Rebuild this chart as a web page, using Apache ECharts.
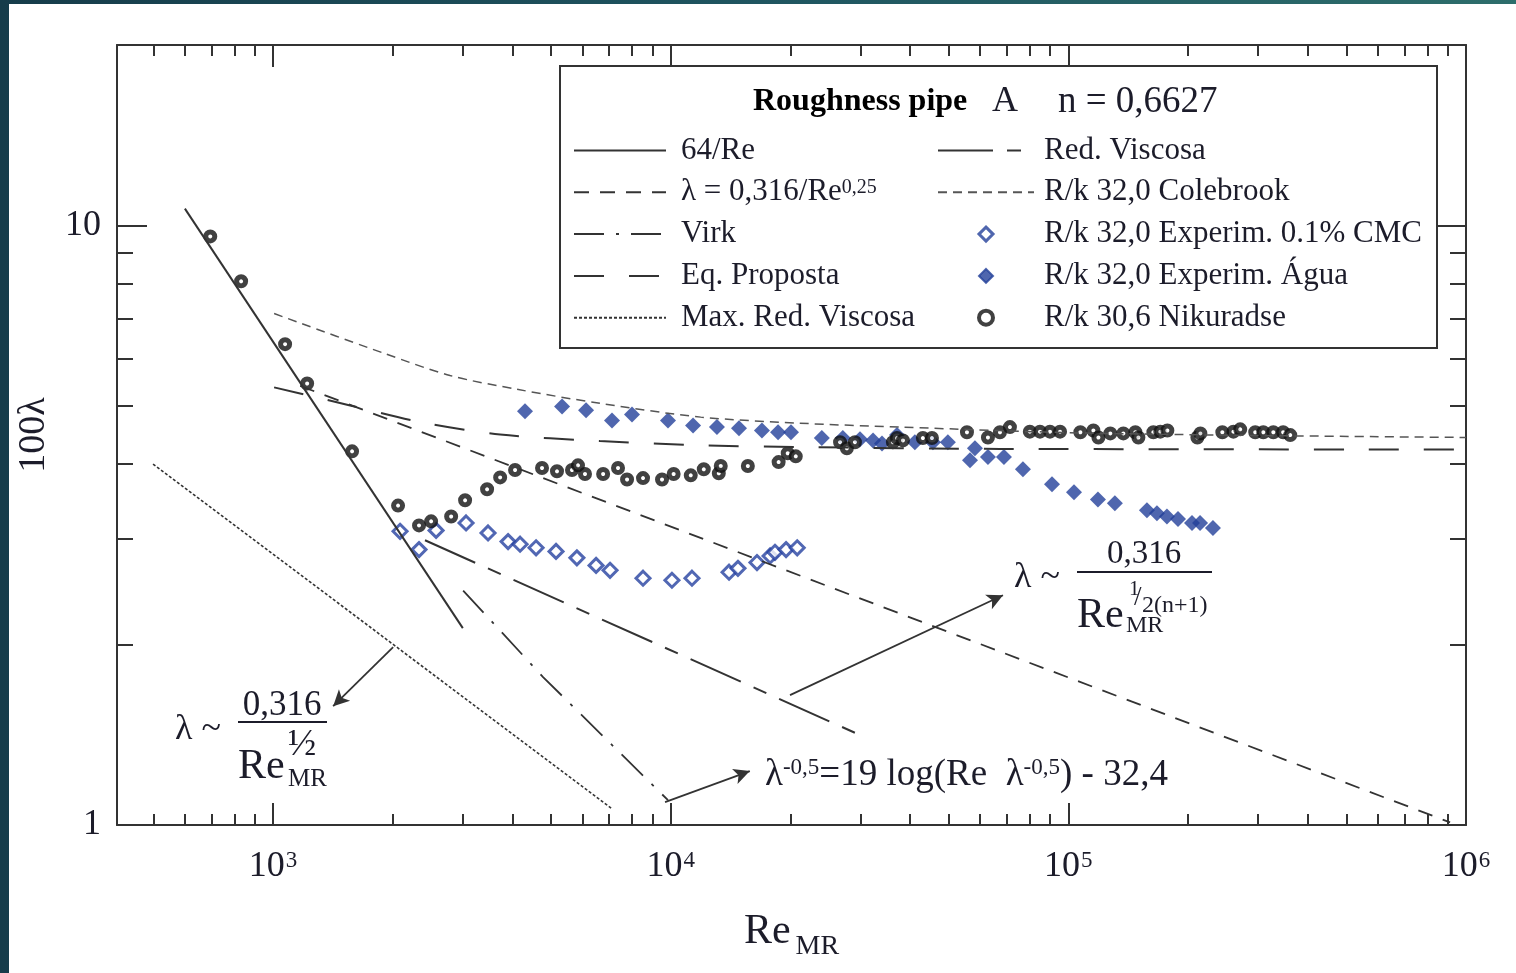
<!DOCTYPE html>
<html>
<head>
<meta charset="utf-8">
<title>Roughness pipe A</title>
<script src="https://cdn.jsdelivr.net/npm/echarts@6/dist/echarts.min.js"></script>
<style>
  html, body { margin: 0; padding: 0; }
  body { width: 1516px; height: 973px; position: relative; overflow: hidden;
         background: linear-gradient(90deg, #163c4a 0%, #1f5560 50%, #2d6d6b 100%); }
  #paper { position: absolute; left: 9px; top: 4px; width: 1507px; height: 969px; background: #fff; }
  #chart { position: absolute; left: 0; top: 0; width: 1516px; height: 973px; }
</style>
</head>
<body>
<div id="paper"></div>
<div id="chart"></div>
<script>
// eixos (Re_MR e 100*lambda)
const xMin = 405, xMax = 1000000;
const yMin = 1, yMax = 20;
const xMajor = [1000, 10000, 100000, 1000000];
const xMinor = [500, 600, 700, 800, 900,
  2000, 3000, 4000, 5000, 6000, 7000, 8000, 9000,
  20000, 30000, 40000, 50000, 60000, 70000, 80000, 90000,
  200000, 300000, 400000, 500000, 600000, 700000, 800000, 900000];
const yMajor = [1, 10];
const yMinor = [2, 3, 4, 5, 6, 7, 8, 9];

// curvas teoricas  [Re, 100λ]
const line64 = [[600, 10.67], [3000, 2.13]];
const blasius = [[1170, 5.40], [912000, 1.01]];
const virk = [[3006, 2.46], [4775, 1.765], [9843, 1.10]];
const eqProposta = [[1006, 5.37], [1562, 5.01], [2343, 4.70], [3724, 4.48], [6637, 4.37],
  [11850, 4.30], [21130, 4.27], [67300, 4.24], [1000000, 4.23]];
const maxRedViscosa = [[499, 4.0], [7080, 1.067]];
const redViscosa = [[2410, 2.985], [29900, 1.413]];
const colebrook = [[1006, 7.13], [1901, 6.12], [2786, 5.62], [4108, 5.33], [6640, 5.05],
  [11900, 4.79], [21100, 4.68], [37700, 4.61], [120000, 4.50], [1000000, 4.43]];

// pontos experimentais [Re, 100λ]
const cmc = [[2086, 3.09], [2328, 2.88], [2570, 3.10], [3057, 3.19], [3472, 3.07], [3899, 2.97],
  [4180, 2.94], [4585, 2.90], [5147, 2.86], [5808, 2.79], [6490, 2.71], [7037, 2.66],
  [8518, 2.58], [10070, 2.56], [11310, 2.58], [14020, 2.64], [14760, 2.68], [16480, 2.74],
  [17780, 2.81], [18290, 2.85], [19500, 2.88], [20800, 2.90]];
const agua = [[4301, 4.90], [5330, 4.99], [6124, 4.92], [7116, 4.73], [7991, 4.84], [9843, 4.73],
  [11380, 4.64], [13070, 4.61], [14850, 4.59], [16960, 4.55], [18620, 4.52], [20070, 4.52],
  [23990, 4.42], [27090, 4.42], [29920, 4.40], [32270, 4.38], [33990, 4.33], [37070, 4.47],
  [41120, 4.35], [45650, 4.35], [49780, 4.35], [56570, 4.06], [58220, 4.25], [62770, 4.11],
  [68870, 4.11], [76880, 3.92], [90970, 3.70], [103300, 3.59], [118700, 3.49], [130900, 3.44],
  [157600, 3.35], [167000, 3.31], [177000, 3.27], [188700, 3.24], [204600, 3.19], [214400, 3.19],
  [231000, 3.13]];
const nikuradse = [[695, 9.59], [831, 8.07], [1072, 6.34], [1218, 5.45], [1580, 4.20], [2062, 3.41],
  [2328, 3.16], [2497, 3.21], [2804, 3.27], [3040, 3.48], [3453, 3.63], [3724, 3.80], [4060, 3.91],
  [4746, 3.94], [5176, 3.89], [5646, 3.91], [5846, 3.98], [6087, 3.85], [6761, 3.85], [7370, 3.94],
  [7766, 3.77], [8518, 3.79], [9508, 3.77], [10170, 3.85], [11230, 3.83], [12110, 3.92],
  [13210, 3.86], [13360, 3.97], [15630, 3.97], [18680, 4.03], [19690, 4.17], [20630, 4.12],
  [26660, 4.35], [27730, 4.25], [29060, 4.35], [36200, 4.35], [37070, 4.42], [38370, 4.38],
  [43060, 4.42], [45390, 4.42], [55590, 4.52], [62770, 4.43], [67300, 4.52], [71290, 4.61],
  [80000, 4.53], [84850, 4.53], [89900, 4.53], [95300, 4.53], [107200, 4.52], [115600, 4.55],
  [119000, 4.43], [127500, 4.50], [137500, 4.50], [147400, 4.52], [150000, 4.43], [163600, 4.52],
  [170300, 4.53], [177400, 4.55], [211100, 4.43], [214800, 4.50], [243900, 4.52], [260100, 4.53],
  [270500, 4.57], [295100, 4.52], [309200, 4.52], [327700, 4.52], [346900, 4.52], [361400, 4.47]];

// setas das anotacoes [origem, ponta]
const setas = [
  [[2004, 1.98], [1416, 1.578]],
  [[19950, 1.647], [68480, 2.417]],
  [[9676, 1.092], [15810, 1.23]]
];

const FONT = '"Liberation Serif", "Times New Roman", serif';
const INK = '#1c1c2a';
const LINHA = '#333';
const AZUL = '#23409a';
const DIAMANTE = 'path://M10,0L20,10L10,20L0,10Z';

const N_BLASIUS = 'λ = 0,316/Re0,25';
const N_CMC = 'R/k 32,0 Experim. 0.1% CMC';
const N_AGUA = 'R/k 32,0 Experim. Água';
const N_NIK = 'R/k 30,6 Nikuradse';
const N_COLE = 'R/k 32,0 Colebrook';

const chart = echarts.init(document.getElementById('chart'));

function eixoX(pos, major) {
  return {
    type: 'log', min: xMin, max: xMax, position: pos,
    axisLine: { show: major, lineStyle: { color: LINHA, width: 2 } },
    axisTick: { show: true, inside: true, length: major ? 22 : 11,
      customValues: major ? xMajor : xMinor, lineStyle: { color: LINHA, width: 2 } },
    minorTick: { show: false },
    splitLine: { show: false },
    axisLabel: { show: false }
  };
}
function eixoY(pos, major) {
  return {
    type: 'log', min: yMin, max: yMax, position: pos,
    axisLine: { show: major, lineStyle: { color: LINHA, width: 2 } },
    axisTick: { show: true, inside: true, length: major ? 30 : 16,
      customValues: major ? yMajor : yMinor, lineStyle: { color: LINHA, width: 2 } },
    minorTick: { show: false },
    splitLine: { show: false },
    axisLabel: { show: false }
  };
}

const xAxes = [eixoX('bottom', true), eixoX('bottom', false), eixoX('top', true), eixoX('top', false)];
xAxes[0].axisLabel = {
  show: true, customValues: xMajor, margin: 24,
  formatter: v => '{b|10}{s|' + Math.round(Math.log10(v)) + '}',
  rich: {
    b: { fontFamily: FONT, fontSize: 36, color: INK },
    s: { fontFamily: FONT, fontSize: 23, color: INK, verticalAlign: 'top', padding: [0, 0, 0, 1] }
  }
};
xAxes[0].name = '{r|Re}{s|MR}';
xAxes[0].nameLocation = 'middle';
xAxes[0].nameGap = 86;
xAxes[0].nameTextStyle = {
  rich: {
    r: { fontFamily: FONT, fontSize: 42, color: INK, padding: [0, 0, 8, 0] },
    s: { fontFamily: FONT, fontSize: 28, color: INK, verticalAlign: 'bottom', padding: [0, 0, 0, 5] }
  }
};

const yAxes = [eixoY('left', true), eixoY('left', false), eixoY('right', true), eixoY('right', false)];
yAxes[0].axisLabel = {
  show: true, customValues: yMajor, margin: 16,
  fontFamily: FONT, fontSize: 36, color: INK,
  formatter: v => String(v)
};
yAxes[0].name = '100λ';
yAxes[0].nameLocation = 'middle';
yAxes[0].nameRotate = 90;
yAxes[0].nameGap = 64;
yAxes[0].nameTextStyle = { fontFamily: FONT, fontSize: 38, color: INK };

function linha(nome, dados, tipo, largura, cor, suave) {
  return {
    name: nome, type: 'line', data: dados, symbol: 'none', smooth: suave || false,
    xAxisIndex: 0, yAxisIndex: 0, silent: true,
    itemStyle: { color: 'rgba(0,0,0,0)', borderWidth: 0 },
    lineStyle: { color: cor || LINHA, width: largura, type: tipo }
  };
}

const serie64 = linha('64/Re', line64, 'solid', 2);
serie64.markLine = {
  silent: true, symbol: ['none', 'arrow'], symbolSize: [12, 16],
  label: { show: false },
  lineStyle: { color: LINHA, width: 1.8, type: 'solid' },
  data: setas.map(s => [{ coord: s[0] }, { coord: s[1] }])
};

const legendaTexto = {
  fontFamily: FONT, fontSize: 31, color: INK, lineHeight: 30,
  rich: { s: { fontFamily: FONT, fontSize: 20, color: INK, verticalAlign: 'top' } }
};
const formatoLegenda = nome => nome === N_BLASIUS ? 'λ = 0,316/Re{s|0,25}' : nome;

const option = {
  animation: false,
  grid: { left: 117, right: 50, top: 45, bottom: 148, outerBoundsMode: 'none', containLabel: false },
  xAxis: xAxes,
  yAxis: yAxes,
  legend: [
    {
      data: ['64/Re', N_BLASIUS, 'Virk', 'Eq. Proposta', 'Max. Red. Viscosa'],
      orient: 'vertical', left: 573, top: 135, padding: 0,
      itemWidth: 92, itemHeight: 14, itemGap: 10.8, selectedMode: false,
      textStyle: Object.assign({ padding: [0, 0, 0, 10] }, legendaTexto),
      formatter: formatoLegenda
    },
    {
      data: ['Red. Viscosa', N_COLE,
        { name: N_CMC, icon: DIAMANTE, itemStyle: { color: '#fff', borderColor: AZUL, borderWidth: 3 } },
        { name: N_AGUA, icon: DIAMANTE, itemStyle: { color: AZUL, borderColor: AZUL, borderWidth: 2 } },
        { name: N_NIK, itemStyle: { borderWidth: 4 } }],
      orient: 'vertical', left: 937, top: 135, padding: 0, symbolKeepAspect: true,
      itemWidth: 96, itemHeight: 14, itemGap: 10.8, selectedMode: false,
      textStyle: Object.assign({ padding: [0, 0, 0, 5] }, legendaTexto),
      formatter: formatoLegenda
    }
  ],
  series: [
    serie64,
    linha(N_BLASIUS, blasius, [15, 11], 1.8),
    linha('Virk', virk, [30, 12, 3, 12], 1.8),
    linha('Eq. Proposta', eqProposta, [30, 25], 2, LINHA, 0.3),
    linha('Max. Red. Viscosa', maxRedViscosa, [3, 2], 1.6),
    linha('Red. Viscosa', redViscosa, [55, 14, 14, 14], 2),
    linha(N_COLE, colebrook, [9, 6], 1.5, '#555', 0.3),
    {
      name: N_CMC, type: 'scatter', data: cmc, symbol: 'diamond', symbolSize: 14, silent: true,
      itemStyle: { color: '#fff', borderColor: '#2541a0', borderWidth: 3 }
    },
    {
      name: N_AGUA, type: 'scatter', data: agua, symbol: 'diamond', symbolSize: 16, silent: true,
      itemStyle: { color: AZUL }
    },
    {
      name: N_NIK, type: 'scatter', data: nikuradse, symbol: 'circle', symbolSize: 9, silent: true,
      itemStyle: { color: '#fff', borderColor: '#121212', borderWidth: 5 }
    }
  ],
  graphic: [
    // moldura da legenda
    { type: 'rect', shape: { x: 560, y: 66, width: 877, height: 282 },
      style: { fill: 'rgba(0,0,0,0)', stroke: LINHA, lineWidth: 2 } },
    { type: 'text', x: 753, y: 102, style: { text: 'Roughness pipe', fontFamily: FONT, fontSize: 32,
      fontWeight: 'bold', fill: '#000', verticalAlign: 'middle' } },
    { type: 'text', x: 992, y: 102, style: { text: 'A', fontFamily: FONT, fontSize: 36, fill: INK, verticalAlign: 'middle' } },
    { type: 'text', x: 1058, y: 102, style: { text: 'n = 0,6627', fontFamily: FONT, fontSize: 37, fill: INK, verticalAlign: 'middle' } },

    // anotacao 1: λ ~ 0,316 / Re_MR^(1/2)
    { type: 'text', x: 175, y: 730, style: { text: 'λ ~', fontFamily: FONT, fontSize: 36, fill: INK, verticalAlign: 'middle' } },
    { type: 'text', x: 282, y: 706, style: { text: '0,316', fontFamily: FONT, fontSize: 35, fill: INK, align: 'center', verticalAlign: 'middle' } },
    { type: 'line', shape: { x1: 238, y1: 722, x2: 327, y2: 722 }, style: { stroke: INK, lineWidth: 2 } },
    { type: 'text', x: 302, y: 745, style: { text: '½', fontFamily: FONT, fontSize: 38, fill: INK, align: 'center', verticalAlign: 'middle' } },
    { type: 'text', x: 238, y: 767, style: { text: 'Re', fontFamily: FONT, fontSize: 42, fill: INK, verticalAlign: 'middle' } },
    { type: 'text', x: 288, y: 779, style: { text: 'MR', fontFamily: FONT, fontSize: 25, fill: INK, verticalAlign: 'middle' } },

    // anotacao 2: λ ~ 0,316 / Re_MR^(1/2(n+1))
    { type: 'text', x: 1014, y: 578, style: { text: 'λ ~', fontFamily: FONT, fontSize: 36, fill: INK, verticalAlign: 'middle' } },
    { type: 'text', x: 1144, y: 554, style: { text: '0,316', fontFamily: FONT, fontSize: 33, fill: INK, align: 'center', verticalAlign: 'middle' } },
    { type: 'line', shape: { x1: 1077, y1: 572, x2: 1212, y2: 572 }, style: { stroke: INK, lineWidth: 2 } },
    { type: 'text', x: 1077, y: 616, style: { text: 'Re', fontFamily: FONT, fontSize: 42, fill: INK, verticalAlign: 'middle' } },
    { type: 'text', x: 1126, y: 626, style: { text: 'MR', fontFamily: FONT, fontSize: 24, fill: INK, verticalAlign: 'middle' } },
    { type: 'text', x: 1129, y: 589, style: { text: '1', fontFamily: FONT, fontSize: 21, fill: INK, verticalAlign: 'middle' } },
    { type: 'text', x: 1134, y: 598, style: { text: '/', fontFamily: FONT, fontSize: 27, fill: INK, verticalAlign: 'middle' } },
    { type: 'text', x: 1142, y: 606, style: { text: '2(n+1)', fontFamily: FONT, fontSize: 24, fill: INK, verticalAlign: 'middle' } },

    // anotacao 3: Virk
    { type: 'text', x: 765, y: 775, style: {
      text: '{a|λ}{s|-0,5}{a|=19 log(Re  λ}{s|-0,5}{a|) - 32,4}',
      verticalAlign: 'middle',
      rich: {
        a: { fontFamily: FONT, fontSize: 37, fill: INK },
        s: { fontFamily: FONT, fontSize: 23, fill: INK, verticalAlign: 'top' }
      } } }
  ]
};

chart.setOption(option);
</script>
</body>
</html>
